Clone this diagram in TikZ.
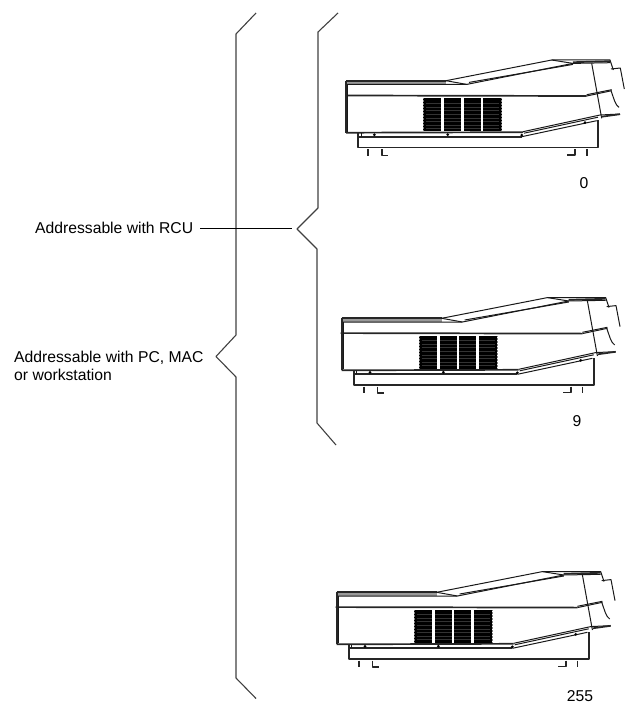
\documentclass[tikz,border=0pt]{standalone}
\usepackage{fontspec}
\setmainfont{Liberation Sans}
\usetikzlibrary{positioning}

\tikzset{
  brace/.style={line width=1.1pt, black!75, line join=round},
  label/.style={inner sep=0pt, font=\fontsize{15.7}{18}\selectfont},
  body/.style={line width=1pt, black!90, line join=round},
  band/.style={line width=1.7pt, black!85, line join=round},
}

\begin{document}
\begin{tikzpicture}[x=1pt,y=-1pt]
\useasboundingbox (0,0) rectangle (628,709);

% braces
\draw[brace] (256,13) -- (236,34) -- (236,335) -- (216,356.5) -- (236,377) -- (236,678) -- (256,698.5);
\coordinate (rcutip) at (291.5,228);
\draw[brace] (338,13) -- (318,32) -- (318,208) -- (297,229) -- (317,249) -- (317,423) -- (336,445);

\node[label, anchor=base west] (rcu) at (35,233) {Addressable with RCU};
\node[label, anchor=north west, align=left] (pcmac) at (14,351) {Addressable with PC, MAC\\or workstation};
\draw[line width=0.9pt] (rcu.east |- rcutip) ++(7,0) coordinate (rcustart) (rcustart) -- (rcutip);

\node[label, anchor=base] (addr0) at (584,188) {0};
\node[label, anchor=base] (addr9) at (577,426) {9};
\node[label, anchor=base] (addr255) at (580,701) {255};

% the three units
\foreach \ox/\oy in {346/80.7, 341.7/318.3, 336.7/592.3} {
\begin{scope}[shift={(\ox,\oy)}]
  % grille
  \fill[black] (77.3,17.7) rectangle (155.5,50.5);
  \foreach \y in {22,26,29,33,37,40,44,47} {
    \draw[black!80, line width=0.3pt] (80,\y) -- (153,\y);
  }
  \foreach \x in {96.7,116.3,136} {
    \fill[white] (\x-1.3,17.7) rectangle (\x+1.3,50.5);
  }
  \draw[black!50, line width=0.5pt, densely dotted] (77.5,17.7) -- (77.5,50.5);
  \draw[black!50, line width=0.5pt, densely dotted] (155.5,17.7) -- (155.5,50.5);

  % top
  \fill[black!40] (0,0) rectangle (100,3.7);
  \draw[band] (0,0) -- (100,0);
  \draw[body] (100,0) -- (205.7,-20.7) -- (264,-20.7) -- (267.3,-10.7);
  \draw[body] (0,3.7) -- (120.7,3.7) -- (227,-17.3);
  \draw[body] (123,1.7) -- (227,-16.3);
  \draw[body] (100,0) -- (120.7,3.7);
  \draw[body] (205.7,-20.7) -- (227,-17.3) -- (264,-18);
  \draw[band] (227,-18.5) -- (264,-19.5);
  % belt
  \draw[band] (-1,14.8) -- (240.7,15.3);
  \draw[body] (240.7,15.3) -- (265.7,10);
  \draw[body] (240.7,14) -- (265.7,9);
  % left side
  \draw[band] (0,0) -- (0,52);
  \draw[body] (1.5,3.7) -- (1.5,51);
  % front end
  \draw[body] (245.7,-17.3) -- (255.7,37.7);
  \draw[body] (265,10) .. controls (268,18) and (269,24) .. (273,26.7);
  % lens
  \draw[body] (265,-11.7) -- (274.3,-12.7) -- (278.3,8.3);
  % lower edge
  \draw[band] (0,52) -- (177,51.5);
  \draw[body] (177,51) -- (254,34.3) -- (274,33.3);
  \draw[band] (256,36) -- (274,33.5);
  \draw[body] (175.7,56) -- (250.7,40);
  \draw[body] (178,52.5) -- (252,36.5);
  \draw[band] (12.3,56) -- (175.7,56);
  % base
  \draw[band] (12.3,52.7) -- (12.3,66.7) -- (252.3,66.7) -- (252.3,39.3);
  \draw[body] (15,52.7) -- (15,56);
  \foreach \x/\y in {28.3/54, 101.7/54, 175.7/54.5, 239/42} {
    \fill[black] (\x,\y) circle (1.5);
  }
  % feet
  \draw[band] (22.3,68.3) -- (22.3,75);
  \draw[band] (35.7,68.3) -- (35.7,74.7) -- (42.3,74.7);
  \draw[band] (229,68.3) -- (229,74.3) -- (221.3,74.3);
  \draw[band] (240.7,68.3) -- (240.7,75);
\end{scope}
}
\end{tikzpicture}
\end{document}
